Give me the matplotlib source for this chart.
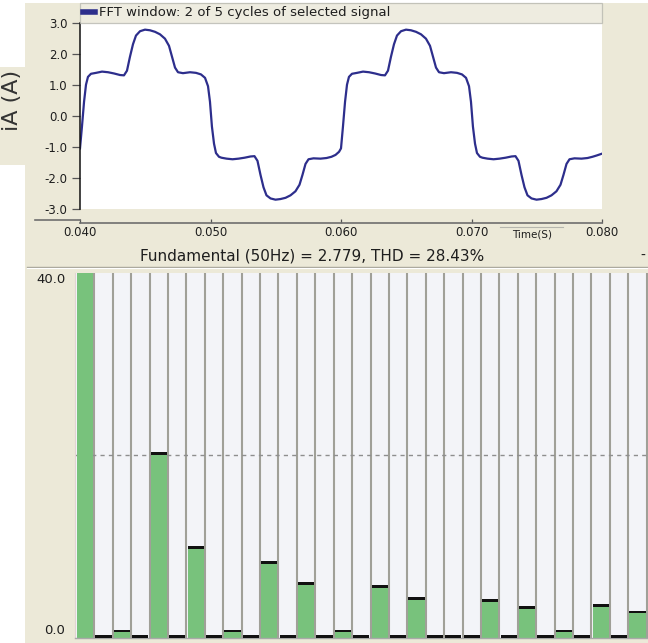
import matplotlib
matplotlib.use("Agg")
import matplotlib.pyplot as plt
from matplotlib.patches import Rectangle
from matplotlib.lines import Line2D
from matplotlib.ticker import FormatStrFormatter
import numpy as np

# ---------------------------------------------------------------- data
# Phase current iA over the FFT window (time in ms, current in A)
time_ms = [
    40.00, 40.15, 40.31, 40.46, 40.61, 40.84, 41.23, 41.69, 42.15, 42.61,
    43.07, 43.37, 43.60, 43.83, 44.06, 44.29, 44.60, 44.98, 45.36, 45.75,
    46.13, 46.51, 46.82, 47.05, 47.28, 47.51, 47.89, 48.43, 48.89, 49.27,
    49.58, 49.81, 49.96, 50.11, 50.27, 50.42, 50.65, 50.84, 51.23, 51.69,
    52.15, 52.61, 53.07, 53.37, 53.60, 53.83, 54.06, 54.29, 54.60, 54.98,
    55.36, 55.75, 56.13, 56.51, 56.82, 57.05, 57.28, 57.51, 57.89, 58.43,
    58.89, 59.27, 59.58, 59.85,
    60.00, 60.15, 60.31, 60.46, 60.61, 60.84, 61.23, 61.69, 62.15, 62.61,
    63.07, 63.37, 63.60, 63.83, 64.06, 64.29, 64.60, 64.98, 65.36, 65.75,
    66.13, 66.51, 66.82, 67.05, 67.28, 67.51, 67.89, 68.43, 68.89, 69.27,
    69.58, 69.81, 69.96, 70.11, 70.27, 70.42, 70.65, 70.84, 71.23, 71.69,
    72.15, 72.61, 73.07, 73.37, 73.60, 73.83, 74.06, 74.29, 74.60, 74.98,
    75.36, 75.75, 76.13, 76.51, 76.82, 77.05, 77.28, 77.51, 77.89, 78.43,
    78.89, 79.27, 79.58, 80.00,
]
current_a = [
    -1.05, -0.35, 0.45, 1.00, 1.25, 1.35, 1.38, 1.42, 1.40, 1.36,
    1.31, 1.30, 1.45, 1.90, 2.30, 2.58, 2.72, 2.77, 2.75, 2.70,
    2.62, 2.48, 2.25, 1.90, 1.55, 1.40, 1.37, 1.40, 1.38, 1.33,
    1.22, 0.95, 0.45, -0.35, -0.90, -1.20, -1.32, -1.35, -1.38, -1.40,
    -1.38, -1.35, -1.31, -1.30, -1.45, -1.90, -2.30, -2.56, -2.66, -2.70,
    -2.68, -2.64, -2.56, -2.43, -2.22, -1.90, -1.55, -1.40, -1.37, -1.38,
    -1.36, -1.32, -1.26, -1.16,
    -1.05, -0.35, 0.45, 1.00, 1.25, 1.35, 1.38, 1.42, 1.40, 1.36,
    1.31, 1.30, 1.45, 1.90, 2.30, 2.58, 2.72, 2.77, 2.75, 2.70,
    2.62, 2.48, 2.25, 1.90, 1.55, 1.40, 1.37, 1.40, 1.38, 1.33,
    1.22, 0.95, 0.45, -0.35, -0.90, -1.20, -1.32, -1.35, -1.38, -1.40,
    -1.38, -1.35, -1.31, -1.30, -1.45, -1.90, -2.30, -2.56, -2.66, -2.70,
    -2.68, -2.64, -2.56, -2.43, -2.22, -1.90, -1.55, -1.40, -1.37, -1.38,
    -1.36, -1.32, -1.28, -1.22,
]

# Harmonic spectrum (magnitude in % of fundamental)
harmonic_order = list(range(1, 32))
harmonic_mag = [
    100.0, 0.0, 0.55, 0.0, 20.0, 0.0, 9.7, 0.0, 0.55, 0.0,
    8.1, 0.0, 5.8, 0.0, 0.55, 0.0, 5.4, 0.0, 4.15, 0.0,
    0.0, 0.0, 3.86, 0.0, 3.09, 0.0, 0.55, 0.0, 3.4, 0.0,
    2.64,
]

signal_yticks = [-3, -2, -1, 0, 1, 2, 3]
signal_xticks = [0.040, 0.050, 0.060, 0.070, 0.080]
mag_ticks = [0, 40]
mag_midline = 20
legend_label = "FFT window: 2 of 5 cycles of selected signal"
fundamental_hz = 50
fundamental_mag = 2.779
thd_pct = 28.43

# ---------------------------------------------------------------- styling
W, H = 648, 643
BEIGE = "#ECE9D8"
NAVY = "#2D2E8C"
GREEN = "#78C27C"
SLOT_BG = "#F3F4F8"
SEP = "#A0A098"
TXT = "#1E1E1E"


def fx(x):
    return x / W


def fy(y):
    return 1 - y / H


def box(x0, y0, x1, y1):
    return [fx(x0), fy(y1), fx(x1) - fx(x0), fy(y0) - fy(y1)]


fig = plt.figure(figsize=(W / 100, H / 100), dpi=100, facecolor="white")

# panel backgrounds
fig.patches.append(Rectangle((fx(25), fy(643)), fx(648) - fx(25), fy(3) - fy(643),
                             transform=fig.transFigure, facecolor=BEIGE,
                             edgecolor="none", zorder=-10))
fig.patches.append(Rectangle((fx(0), fy(165)), fx(25), fy(67) - fy(165),
                             transform=fig.transFigure, facecolor=BEIGE,
                             edgecolor="none", zorder=-10))

# ---------------------------------------------------------------- signal
ax1 = fig.add_axes(box(80, 22.5, 602, 209))
ax1.set_facecolor("white")
ax1.plot(np.array(time_ms) / 1000.0, current_a, color=NAVY, lw=1.6,
         label=legend_label, solid_joinstyle="round")
ax1.set_xlim(signal_xticks[0], signal_xticks[-1])
ax1.set_ylim(-3, 3)
ax1.set_yticks(signal_yticks)
ax1.yaxis.set_major_formatter(FormatStrFormatter("%.1f"))
ax1.set_xticks(signal_xticks)
ax1.xaxis.set_major_formatter(FormatStrFormatter("%.3f"))
for side in ("top", "right"):
    ax1.spines[side].set_visible(False)
ax1.spines["left"].set_color("#111111")
ax1.spines["left"].set_linewidth(1.1)
ax1.spines["bottom"].set_position(("outward", 10))
ax1.spines["bottom"].set_color("#6E6E6E")
ax1.spines["bottom"].set_linewidth(1.2)
ax1.tick_params(axis="y", direction="out", length=5.5, width=0.9,
                color="#555555", pad=3.5, labelsize=8.5, labelcolor=TXT)
ax1.tick_params(axis="x", direction="in", length=3, width=0.9,
                color="#555555", pad=2.5, labelsize=8.5, labelcolor=TXT)

leg = ax1.legend(loc="lower left", bbox_to_anchor=(0, 1.0, 1, 0.0),
                 mode="expand", borderaxespad=0, fontsize=9.5,
                 handlelength=0.9, handletextpad=0.3, borderpad=0.25,
                 fancybox=False, frameon=True)
leg.get_frame().set_facecolor("#EFEEE3")
leg.get_frame().set_edgecolor("#B8B8B0")
leg.get_frame().set_linewidth(0.9)
for h in leg.legend_handles:
    h.set_linewidth(4)
for t in leg.get_texts():
    t.set_color(TXT)

# axis line extended to the left under the signal plot
fig.add_artist(Line2D([fx(35), fx(80)], [fy(219.5), fy(219.5)],
                      transform=fig.transFigure, color="#6E6E6E", lw=1.2))

fig.text(fx(12), fy(100), "iA (A)", rotation=90, ha="center", va="center",
         fontsize=16, color="#333333")
fig.text(fx(532), fy(234), "Time(S)", ha="center", va="center",
         fontsize=7.5, color=TXT)
fig.add_artist(Line2D([fx(500), fx(563)], [fy(227), fy(227)],
                      transform=fig.transFigure, color="#B5B5AD", lw=0.8))

# ---------------------------------------------------------------- title strip
title = (f"Fundamental ({fundamental_hz}Hz) = {fundamental_mag:.3f}, "
         f"THD = {thd_pct:.2f}%")
fig.text(fx(312), fy(256), title, ha="center", va="center",
         fontsize=11, color=TXT)
fig.text(fx(643), fy(256), "-", ha="center", va="center",
         fontsize=10, color=TXT)
fig.add_artist(Line2D([fx(27), fx(648)], [fy(267), fy(267)],
                      transform=fig.transFigure, color="#A8A69A", lw=1.0))
fig.add_artist(Line2D([fx(27), fx(648)], [fy(268.2), fy(268.2)],
                      transform=fig.transFigure, color="white", lw=0.8))

# ---------------------------------------------------------------- spectrum
ax2 = fig.add_axes(box(75, 273, 648, 637.5))
ax2.set_facecolor(SLOT_BG)
orders = np.array(harmonic_order)
mags = np.array(harmonic_mag)
ax2.vlines(orders + 0.5, 0, mag_ticks[-1], color=SEP, lw=1.5, zorder=1)
ax2.axhline(mag_midline, color="#8E8E8E", lw=1.0, ls=(0, (3, 3)), zorder=1.5)
ax2.bar(orders, mags, width=0.88, color=GREEN, edgecolor="none", zorder=2)
ax2.bar(orders, np.full(len(orders), 0.32), bottom=mags, width=0.88,
        color="#111111", edgecolor="none", zorder=3)
ax2.set_xlim(0.45, 31.57)
ax2.set_ylim(mag_ticks[0], mag_ticks[-1])
ax2.set_xticks([])
ax2.set_yticks(mag_ticks)
ax2.yaxis.set_major_formatter(FormatStrFormatter("%.1f"))
ax2.tick_params(axis="y", length=0, pad=7, labelsize=9.5, labelcolor=TXT)
ticks = ax2.yaxis.get_major_ticks()
ticks[0].label1.set_verticalalignment("bottom")
ticks[-1].label1.set_verticalalignment("top")
for side in ("top", "right"):
    ax2.spines[side].set_visible(False)
ax2.spines["left"].set_color("#E2D3D3")
ax2.spines["left"].set_linewidth(0.8)
ax2.spines["bottom"].set_color("#A9A9A9")
ax2.spines["bottom"].set_linewidth(1.0)

fig.savefig("out.png", dpi=100, facecolor=fig.get_facecolor())
